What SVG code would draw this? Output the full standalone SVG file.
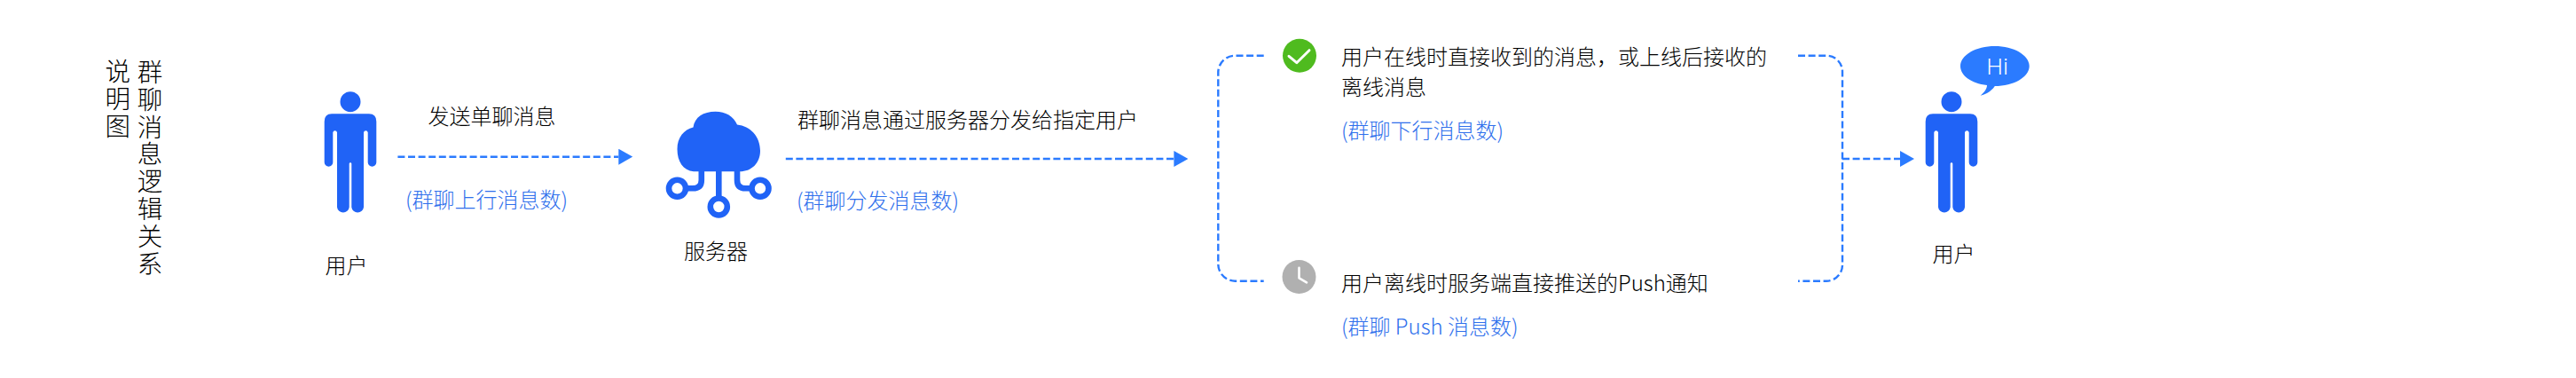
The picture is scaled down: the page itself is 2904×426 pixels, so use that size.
<svg xmlns="http://www.w3.org/2000/svg" width="2904" height="426" viewBox="0 0 2904 426">
<style>
text{font-family:"Noto Sans CJK SC","Liberation Sans",sans-serif;font-size:24px;fill:#000;font-weight:300}
.b{fill:#2f70ec}
.v{font-size:28.5px;text-anchor:middle}
.m{text-anchor:middle}
.p{fill:#2063f6}
.c{fill:none;stroke:#2b7bff;stroke-width:2.4;stroke-dasharray:8 3.6}
.s{fill:none;stroke:#2063f6;stroke-width:6.6}
</style>
<defs>
<marker id="ah" markerUnits="userSpaceOnUse" markerWidth="16" markerHeight="18" refX="0" refY="9" orient="auto"><path d="M0 0L16 9L0 18z" fill="#2b7bff"/></marker>
<path id="person" d="M-21 128.3H21Q29.3 128.3 29.3 137V182.9A4.8 4.8 0 0 1 19.7 182.9V149.2A2.4 2.4 0 0 0 15 149.2V233.4A6.9 6.9 0 0 1 1.3 233.4V184.6A1.3 1.3 0 0 0 -1.3 184.6V233.4A6.9 6.9 0 0 1 -15 233.4V149.2A2.4 2.4 0 0 0 -19.7 149.2V182.9A4.8 4.8 0 0 1 -29.3 182.9V137Q-29.3 128.3 -21 128.3ZM0 103.2A11.5 11.5 0 1 1 0 126.2A11.5 11.5 0 1 1 0 103.2Z"/>
</defs>
<rect width="2904" height="426" fill="#fff"/>
<g id="title">
<text class="v" x="132.7 132.7 132.7" y="90.5 121.5 152.5">说明图</text>
<text class="v" x="169 169 169 169 169 169 169 169" y="91.5 122.5 153.5 184 215 245.5 276.5 307.5">群聊消息逻辑关系</text>
</g>
<g id="connectors">
<path class="c" d="M448.4 176.7H697.3" marker-end="url(#ah)"/>
<path class="c" d="M885.8 179H1323.4" marker-end="url(#ah)"/>
<path class="c" d="M2077 179H2142" marker-end="url(#ah)"/>
<path class="c" d="M1424.7 62.7H1392.3A19 19 0 0 0 1373.3 81.7V297.7A19 19 0 0 0 1392.3 316.7H1424.7"/>
<path class="c" d="M2027 62.7H2059A18 18 0 0 1 2077 80.7V298.7A18 18 0 0 1 2059 316.7H2027"/>
</g>
<g id="sender">
<use href="#person" x="395" class="p"/>
<text class="m" x="390.5" y="307.5">用户</text>
</g>
<g id="send-label">
<text x="482.5" y="139.8">发送单聊消息</text>
<text class="b" x="457" y="234">(群聊上行消息数)</text>
</g>
<g id="server">
<path class="p" d="M782 193.3C770 192 763.5 182 763.5 168C763.5 155 771 146 781.5 143.5C783 132 793 125.7 806.5 125.7C818 125.7 827 131 831 140.5C846 142 857 154 857 170C857 184 847 193.3 834 193.3Z"/>
<path class="s" d="M810.3 193V221M790.8 193V203Q790.8 212.3 781 212.3H773M831 193V203Q831 212.3 840.5 212.3H848"/>
<circle class="s" cx="763.5" cy="212.3" r="9.5"/>
<circle class="s" cx="857" cy="212.3" r="9.5"/>
<circle class="s" cx="810.3" cy="233" r="9.5"/>
<text class="m" x="807" y="292">服务器</text>
</g>
<g id="dispatch-label">
<text x="899" y="144">群聊消息通过服务器分发给指定用户</text>
<text class="b" x="898" y="235">(群聊分发消息数)</text>
</g>
<g id="online">
<circle cx="1465" cy="62.7" r="19" fill="#4fbb1f"/>
<path d="M1453 63.3L1461.8 70.7L1476 56.7" fill="none" stroke="#fff" stroke-width="3" stroke-linecap="round" stroke-linejoin="round"/>
<text x="1512" y="73">用户在线时直接收到的消息，或上线后接收的</text>
<text x="1512" y="107.3">离线消息</text>
<text class="b" x="1512" y="156.3">(群聊下行消息数)</text>
</g>
<g id="offline">
<circle cx="1464.5" cy="312" r="19" fill="#b0b0b0"/>
<path d="M1464.5 301.7V313.3L1473 318.3" fill="none" stroke="#fff" stroke-width="2.6" stroke-linecap="round" stroke-linejoin="round"/>
<text x="1512" y="328">用户离线时服务端直接推送的Push通知</text>
<text class="b" x="1512" y="377.3">(群聊 Push 消息数)</text>
</g>
<g id="receiver">
<use href="#person" x="2200" class="p"/>
<text class="m" x="2202.5" y="294.8">用户</text>
</g>
<g id="bubble">
<path d="M2248.8 52C2270 52 2287.7 62 2287.7 74.5C2287.7 87 2270 97 2248.8 97C2249 97 2244 105 2232.7 107.7C2237 104 2240 100 2240 96C2222 94 2210 85 2210 74.5C2210 62 2227.6 52 2248.8 52Z" fill="#2b7bff"/>
<text class="m" x="2251.7" y="84" style="fill:#fff;font-size:26px;font-family:'Noto Sans','Liberation Sans',sans-serif">Hi</text>
</g>
</svg>
